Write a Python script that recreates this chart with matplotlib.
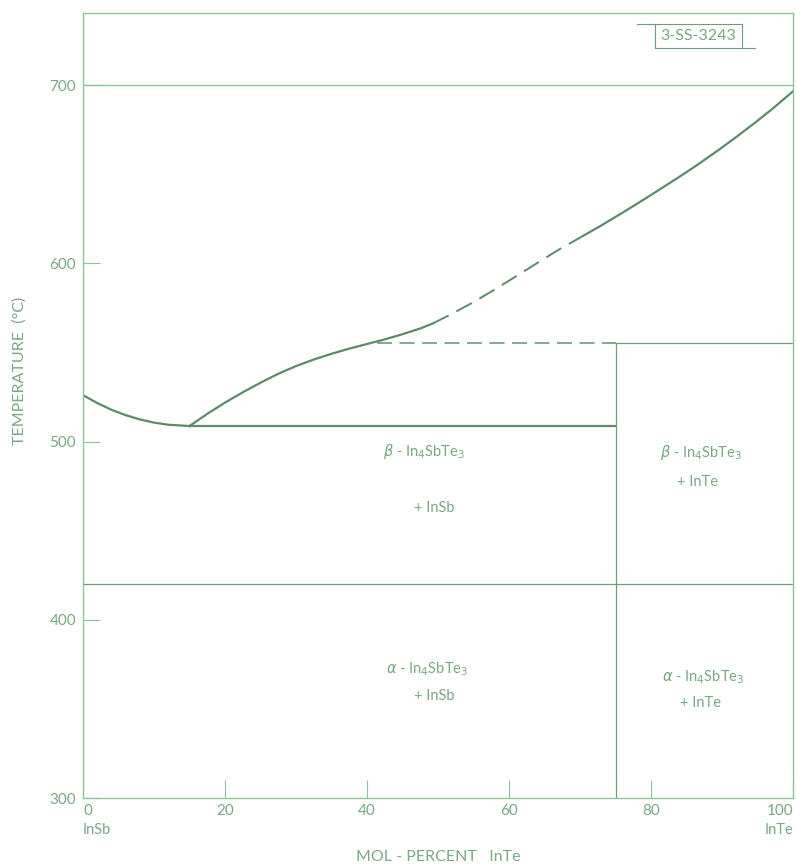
import matplotlib
matplotlib.use("Agg")
import matplotlib.pyplot as plt

plt.rcParams['font.family'] = ['Lato', 'DejaVu Sans']

# liquidus, InSb side (0 -> eutectic)
liq_left_x = [0, 2, 4, 6, 8, 10, 12, 15]
liq_left_y = [526, 521.6, 517.8, 514.8, 512.4, 510.6, 509.4, 508.7]

# liquidus, In4SbTe3 side, solid part up to ~49 %
liq_a_x = [15, 17.5, 20, 22.5, 25, 27.5, 30, 32.5, 35, 37.5, 40, 42.5, 45, 47.5, 49.3]
liq_a_y = [508.7, 515.5, 521.8, 527.6, 533, 538, 542.3, 546, 549.2, 552.1, 554.7, 557.3, 560.2, 563.4, 566.3]

# dashed (uncertain) part
liq_b_x = [49.3, 52, 55, 58, 61, 64, 67, 70.5]
liq_b_y = [566.3, 571.7, 578.2, 585.3, 592.7, 600.2, 607.6, 615.5]

# solid part up to InTe
liq_c_x = [70.5, 73, 76, 78, 80, 82, 84.5, 87, 89.5, 92, 94.5, 97, 100]
liq_c_y = [615.5, 621.2, 628.4, 633.3, 638.3, 643.4, 649.8, 656.5, 663.5, 670.8, 678.4, 686.3, 696.5]

eutectic_T = 508.5
eutectic_x = [15, 75]
peritectic_T = 555
peritectic_dash_x = [41.4, 75]
peritectic_solid_x = [75, 100]
transition_T = 420
compound_x = 75
top_T = 700

xticks = [0, 20, 40, 60, 80, 100]
yticks = [300, 400, 500, 600, 700]

regions = [
    (48, 494.5, r"$\beta$ - In$_4$SbTe$_3$"),
    (49.5, 462.7, "+ InSb"),
    (87.1, 494.1, r"$\beta$ - In$_4$SbTe$_3$"),
    (86.5, 477.3, "+ InTe"),
    (48.5, 372.5, r"$\alpha$ - In$_4$SbTe$_3$"),
    (49.5, 357, "+ InSb"),
    (87.4, 368, r"$\alpha$ - In$_4$SbTe$_3$"),
    (87, 353.2, "+ InTe"),
]

curve_c = "#5e8a6a"
thin_c = "#6f9c7b"
axis_c = "#8fc39c"
text_c = "#78a884"

fig = plt.figure(figsize=(7.96, 8.64), dpi=100)
ax = fig.add_axes([83/796, 66/864, 710/796, 785/864])

ax.plot(liq_left_x, liq_left_y, color=curve_c, lw=1.6)
ax.plot(liq_a_x, liq_a_y, color=curve_c, lw=1.6)
ax.plot(liq_b_x, liq_b_y, color=curve_c, lw=1.4, dashes=(9, 4.5))
ax.plot(liq_c_x, liq_c_y, color=curve_c, lw=1.6)

ax.plot(eutectic_x, [eutectic_T]*2, color=curve_c, lw=1.6)
ax.plot(peritectic_dash_x, [peritectic_T]*2, color=thin_c, lw=1.2, dashes=(9, 4.5))
ax.plot(peritectic_solid_x, [peritectic_T]*2, color=thin_c, lw=0.9)
ax.plot([0, 100], [transition_T]*2, color=thin_c, lw=0.9)
ax.plot([compound_x, compound_x], [300, peritectic_T], color=thin_c, lw=0.9)
ax.plot([0, 100], [top_T]*2, color=axis_c, lw=1.0)

for x, y, s in regions:
    ax.text(x, y, s, color=text_c, fontsize=10.5, ha="center", va="center")

ax.set_xlim(0, 100)
ax.set_ylim(300, 740.4)
ax.set_xticks(xticks)
ax.set_yticks(yticks)
ax.set_xticklabels([str(t) for t in xticks])
ax.set_yticklabels([str(t) for t in yticks])
ax.tick_params(axis="x", direction="in", length=13, width=0.8, color=axis_c,
               labelcolor=text_c, labelsize=11, pad=4)
ax.tick_params(axis="y", direction="in", length=12, width=0.8, color=axis_c,
               labelcolor=text_c, labelsize=11, pad=5)
labs = ax.get_xticklabels()
labs[0].set_ha("left")
labs[-1].set_ha("right")
for sp in ax.spines.values():
    sp.set_color(axis_c)
    sp.set_linewidth(1.0)

xt = ax.get_xaxis_transform()
ax.text(0, -0.041, "InSb", transform=xt, color=text_c, fontsize=10.5, ha="left", va="center")
ax.text(100, -0.041, "InTe", transform=xt, color=text_c, fontsize=10.5, ha="right", va="center")
ax.text(50, -0.075, "MOL - PERCENT   InTe", transform=xt, color=text_c, fontsize=11.5,
        ha="center", va="center")
fig.text(20/796, 1 - 371/864, "TEMPERATURE  (°C)", rotation=90, color=text_c,
         fontsize=11.5, ha="center", va="center")

# drawing number box, top right
at = ax.transAxes
ax.plot([0.780, 0.928], [0.986, 0.986], color=thin_c, lw=0.8, transform=at, clip_on=False)
ax.plot([0.806, 0.946], [0.955, 0.955], color=thin_c, lw=0.8, transform=at, clip_on=False)
ax.plot([0.806, 0.806], [0.955, 0.986], color=thin_c, lw=0.8, transform=at, clip_on=False)
ax.plot([0.928, 0.928], [0.955, 0.986], color=thin_c, lw=0.8, transform=at, clip_on=False)
ax.text(0.867, 0.9705, "3-SS-3243", transform=at, color=text_c, fontsize=11.5,
        ha="center", va="center")

fig.savefig("out.png", dpi=100)
